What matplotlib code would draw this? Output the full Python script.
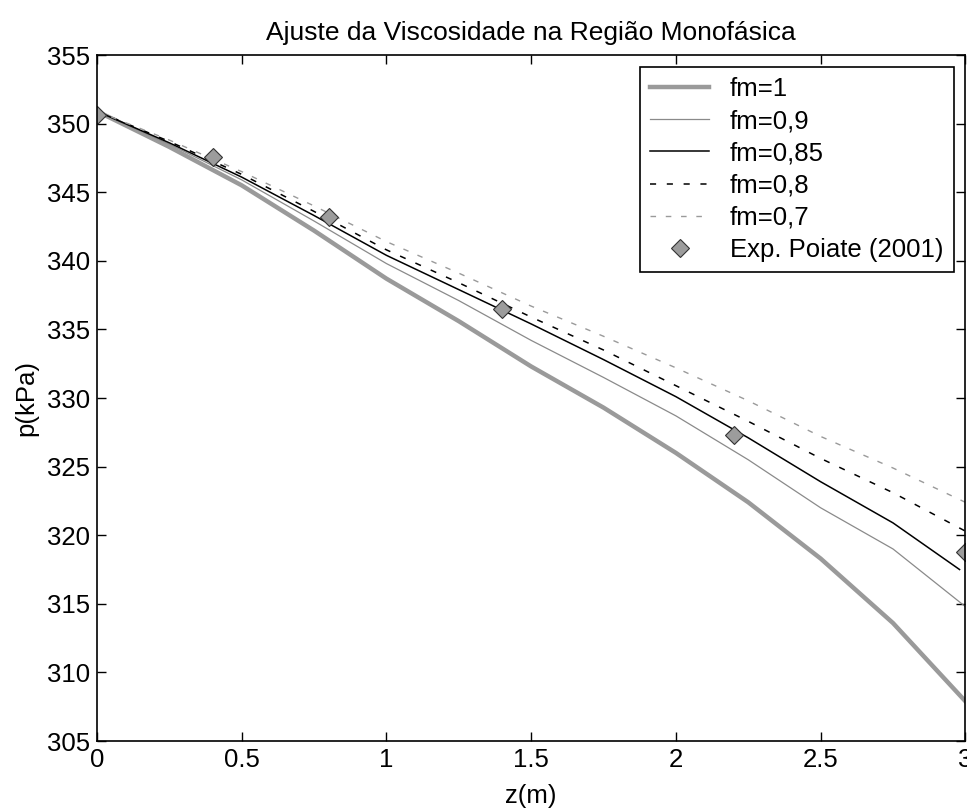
import numpy as np
import matplotlib
matplotlib.use("Agg")
import matplotlib.pyplot as plt

plt.rcParams["font.family"] = ["Liberation Sans", "DejaVu Sans"]

# simulated pressure profiles for each viscosity factor fm
z = [0, 0.25, 0.5, 0.75, 1.0, 1.25, 1.5, 1.75, 2.0, 2.25, 2.5, 2.75, 3.0]
p_fm100 = [350.9, 348.3, 345.5, 342.2, 338.7, 335.6, 332.3, 329.3, 326.0,
           322.4, 318.3, 313.6, 307.9]
p_fm090 = [350.9, 348.5, 345.9, 342.9, 339.8, 337.1, 334.2, 331.5, 328.7,
           325.5, 322.0, 319.0, 314.8]
p_fm080 = [350.9, 348.7, 346.3, 343.6, 340.8, 338.4, 335.9, 333.5, 330.9,
           328.3, 325.6, 323.1, 320.3]
p_fm070 = [350.9, 348.8, 346.5, 344.0, 341.4, 339.1, 336.7, 334.5, 332.2,
           329.8, 327.2, 324.9, 322.4]

z_fm085 = [0, 0.25, 0.5, 0.75, 1.0, 1.25, 1.5, 1.75, 2.0, 2.25, 2.5, 2.75, 2.98]
p_fm085 = [350.9, 348.6, 346.1, 343.3, 340.4, 337.9, 335.4, 332.8, 330.1,
           327.1, 323.9, 320.9, 317.5]

# experimental data
z_exp = [0, 0.4, 0.8, 1.4, 2.2, 3.0]
p_exp = [350.6, 347.6, 343.2, 336.5, 327.3, 318.8]

x_ticks = [0, 0.5, 1, 1.5, 2, 2.5, 3]
x_labels = ["0", "0.5", "1", "1.5", "2", "2.5", "3"]
y_ticks = list(range(305, 356, 5))

fs = 18.5

fig = plt.figure(figsize=(9.67, 8.09), dpi=100)
ax = fig.add_axes([0.1003, 0.084, 0.898, 0.848])

ax.plot(z, p_fm100, color="#9a9a9a", lw=3.2, label="fm=1")
ax.plot(z, p_fm090, color="#8a8a8a", lw=0.9, label="fm=0,9")
ax.plot(z_fm085, p_fm085, color="black", lw=1.1, label="fm=0,85")
ax.plot(z, p_fm080, color="black", lw=1.1, ls=(0, (4, 7)), label="fm=0,8")
ax.plot(z, p_fm070, color="#9a9a9a", lw=1.0, ls=(0, (4, 7)), label="fm=0,7")
ax.plot(z_exp, p_exp, ls="none", marker="D", ms=9.5, mfc="#9c9c9c",
        mec="#333333", mew=0.8, label="Exp. Poiate (2001)")

ax.set_xlim(0, 3)
ax.set_ylim(305, 355)
ax.set_xticks(x_ticks)
ax.set_xticklabels(x_labels)
ax.set_yticks(y_ticks)
ax.tick_params(direction="in", length=6.5, width=1, labelsize=fs,
               top=True, right=True, pad=5)
for s in ax.spines.values():
    s.set_linewidth(1.2)

ax.set_xlabel("z(m)", fontsize=fs, labelpad=9)
ax.set_ylabel("p(kPa)", fontsize=fs, labelpad=6)
ax.set_title("Ajuste da Viscosidade na Região Monofásica", fontsize=19, pad=11)

leg = ax.legend(loc="upper right", fontsize=fs, fancybox=False,
                edgecolor="black", framealpha=1, handlelength=2.3,
                handletextpad=0.8, labelspacing=0.32, borderaxespad=0.45,
                borderpad=0.4)
leg.get_frame().set_linewidth(1.2)

plt.savefig("out.png", dpi=100)
